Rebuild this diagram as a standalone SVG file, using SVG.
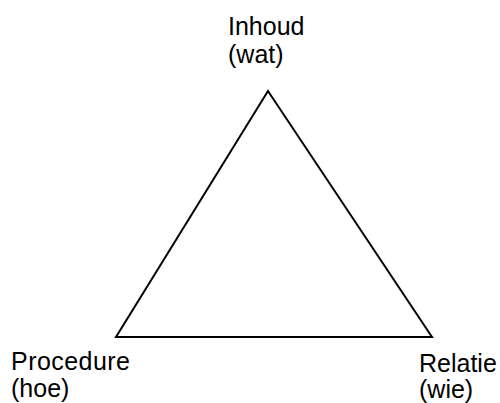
<svg xmlns="http://www.w3.org/2000/svg" width="500" height="403" viewBox="0 0 500 403">
  <style>
    .lbl { font-family: "Liberation Sans", Arial, sans-serif; font-size: 25px; fill: #000; }
    .edge { fill: none; stroke: #000; stroke-width: 2; stroke-linejoin: miter; }
  </style>
  <rect width="500" height="403" fill="#fff"/>
  <g id="connectors">
    <polygon class="edge" points="268,91 116,337 432,337"/>
  </g>
  <g id="inhoud">
    <text class="lbl" x="228" y="35">Inhoud</text>
    <text class="lbl" x="228" y="63">(wat)</text>
  </g>
  <g id="procedure">
    <text class="lbl" x="11" y="370" textLength="119" lengthAdjust="spacing">Procedure</text>
    <text class="lbl" x="11" y="397">(hoe)</text>
  </g>
  <g id="relatie">
    <text class="lbl" x="419" y="372">Relatie</text>
    <text class="lbl" x="419" y="398">(wie)</text>
  </g>
</svg>
